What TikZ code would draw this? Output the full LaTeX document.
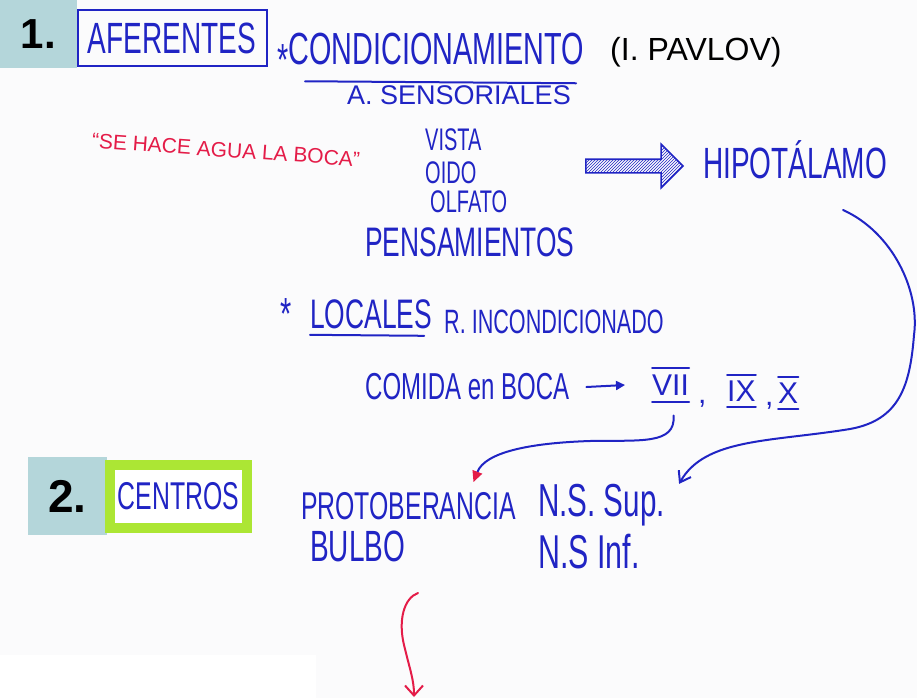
\documentclass[tikz,border=0pt]{standalone}
\usepackage{fontspec}
\setmainfont{Liberation Sans}
\usetikzlibrary{arrows.meta,shapes.arrows,patterns}
\definecolor{penblue}{RGB}{32,36,196}
\definecolor{penred}{RGB}{228,28,72}
\definecolor{boxgray}{RGB}{180,214,218}
\definecolor{marker}{RGB}{172,230,52}
\definecolor{paper}{RGB}{251,251,252}
\newcommand{\tallw}[1]{\scalebox{0.8}[1.25]{#1}}

\begin{document}
\begin{tikzpicture}[x=1pt,y=-1pt,
  hand/.style={font=\fontsize{#1}{#1}\selectfont,text=penblue,inner sep=0pt,anchor=west},
  pen/.style={draw=penblue,line width=2pt,line cap=round},
  redpen/.style={draw=penred,line width=2pt,line cap=round},
  numbox/.style={fill=boxgray,font=\bfseries\fontsize{#1}{#1}\selectfont,inner sep=0pt}]
\useasboundingbox (0,0) rectangle (917,698);
\fill[paper] (0,0) rectangle (917,698);
\fill[white] (0,655) rectangle (316,698);
  %\draw[help lines,step=50] (0,0) grid (917,698);
\node[numbox=42,minimum width=77pt,minimum height=68pt] (one) at (38.5,34) {1.};
\node[numbox=46,minimum width=79pt,minimum height=78pt] (two) at (67.5,496) {2.};
% aferentes
\node[pen,hand=35,anchor=center,minimum width=189pt,minimum height=56pt] (afer) at (172,38) {\tallw{AFERENTES}};
\node[hand=36] (condi) at (277,54) {\tallw{\raisebox{-0.45ex}{*}CONDICIONAMIENTO}};
\draw[pen] ([shift={(28pt,-6pt)}]condi.south west) -- ([shift={(-8pt,-8pt)}]condi.south east);
\node[hand=32,text=black] (pavlov) at (610,52) {(I. PAVLOV)};
\node[hand=27] (sens) at (347,95) {A. SENSORIALES};
\node[hand=21,text=penred,anchor=center,rotate=-4] (quote) at (226,150) {“SE HACE AGUA LA BOCA”};
\node[hand=25] (vista) at (425,140) {\tallw{VISTA}};
\node[hand=25] (oido) at (425,173) {\tallw{OIDO}};
\node[hand=25] (olfato) at (430,202) {\tallw{OLFATO}};
\node[hand=33] (pens) at (365,242) {\tallw{PENSAMIENTOS}};
\node[single arrow,draw=penblue,line width=1.6pt,pattern=north east lines,pattern color=penblue,
  inner sep=6pt,minimum height=97pt,single arrow head extend=15pt,single arrow head indent=0pt] (hatch) at (631,166) {};
\node[hand=35] (hipo) at (703,160) {\tallw{HIPOTÁLAMO}};
% locales
\node[hand=36,anchor=center] (star) at (286,314) {\tallw{*}};
\node[hand=33] (locales) at (310,314) {\tallw{LOCALES}};
\draw[pen] ([yshift=-6pt]locales.south west) -- ([shift={(-8pt,-7pt)}]locales.south east);
\node[hand=27] (rinc) at (444,322) {\tallw{R. INCONDICIONADO}};
\node[hand=30] (comida) at (365,387) {\tallw{COMIDA en BOCA}};
\node[hand=30] (vii) at (652,385) {VII};
\node[hand=30] (c1) at (698,404) {,};
\node[hand=30] (ix) at (727,391) {IX};
\node[hand=30] (c2) at (765,406) {,};
\node[hand=30] (ten) at (778,393) {X};
\draw[pen] ([yshift=6pt]vii.north west) -- ([yshift=6pt]vii.north east);
\draw[pen] ([yshift=-6pt]vii.south west) -- ([yshift=-6pt]vii.south east);
\draw[pen] ([yshift=5pt]ix.north west) -- ([yshift=5pt]ix.north east);
\draw[pen] ([yshift=-5pt]ix.south west) -- ([yshift=-5pt]ix.south east);
\draw[pen] ([yshift=5pt]ten.north west) -- ([yshift=5pt]ten.north east);
\draw[pen] ([yshift=-5pt]ten.south west) -- ([yshift=-5pt]ten.south east);
\draw[pen,-{Triangle[length=9pt,width=9pt]}] ([xshift=17pt]comida.east) -- ([xshift=-27pt]vii.west);
% centros
\node[hand=31,anchor=center,draw=marker,fill=white,line width=10pt,minimum width=137pt,minimum height=63pt] (centros) at (178.5,496.5) {\tallw{CENTROS}};
\node[hand=31] (prot) at (301,506) {\tallw{PROTOBERANCIA}};
\node[hand=35] (bulbo) at (310,546) {\tallw{BULBO}};
\node[hand=37] (nssup) at (538,505) {\tallw{N.S. Sup.}};
\node[hand=38] (nsinf) at (538,552) {\tallw{N.S Inf.}};
% arrows
\coordinate (hipoout) at (843,210);
\draw[pen,-{Straight Barb[length=10pt,width=14pt]}] (hipoout) .. controls (892,232) and (920,290) .. (914,335)
  .. controls (910,385) and (900,420) .. (850,429) .. controls (770,442) and (705,438) .. ([shift={(14pt,0pt)}]nssup.north east);
\draw[pen,-{Triangle[length=11pt,width=10pt,color=penred]}] (vii.south) ++(3,20) .. controls (676,445) and (640,440) .. (590,441)
  .. controls (530,443) and (485,452) .. ([shift={(65pt,10pt)}]prot.north);
\coordinate (redtop) at (418,593);
\coordinate (redend) at (414,697);
\draw[redpen,-{Straight Barb[length=10pt,width=18pt]}] (redtop) .. controls (404,598) and (398,620) .. (404,645)
  .. controls (410,670) and (414,680) .. (redend);
\end{tikzpicture}
\end{document}
